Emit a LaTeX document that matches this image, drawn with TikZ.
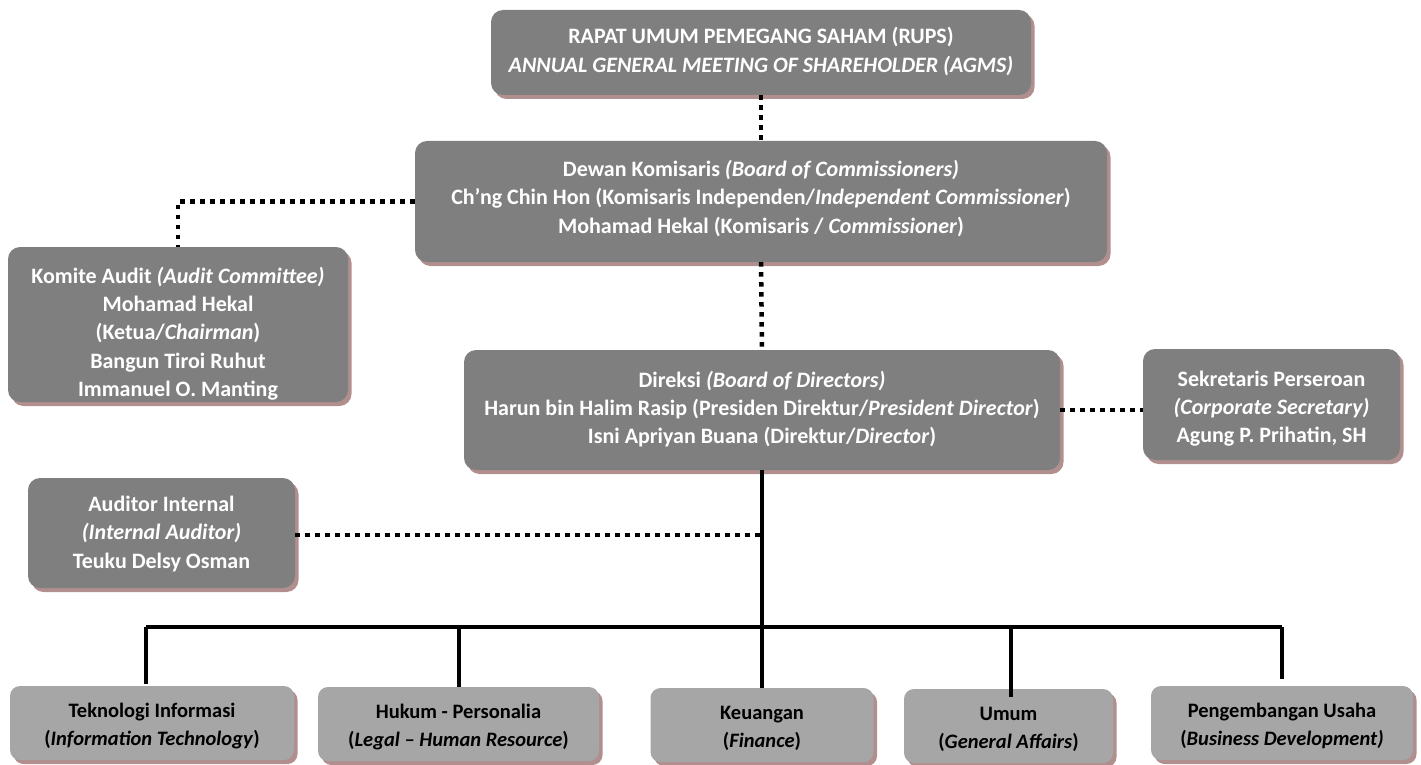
\documentclass[tikz,border=0pt]{standalone}
\usepackage{fontspec}
\setmainfont{Carlito}
\usetikzlibrary{shadows,calc}
\definecolor{darkbox}{RGB}{127,127,127}
\definecolor{lightbox}{RGB}{166,166,166}
\definecolor{shadowc}{RGB}{178,143,143}
\tikzset{
  orgbox/.style={rounded corners=12pt, fill=darkbox, inner sep=0pt,
    drop shadow={shadow xshift=3.5pt, shadow yshift=-4pt, fill=shadowc, opacity=1}},
  unitbox/.style={orgbox, fill=lightbox, rounded corners=10pt},
  orgtext/.style={text=white, align=center, inner sep=0pt,
    font=\fontsize{22}{28.3}\selectfont\bfseries},
  unittext/.style={text=black, align=center, inner sep=0pt,
    font=\fontsize{20.5}{28}\selectfont\bfseries},
  dotline/.style={line width=4.5pt, dash pattern=on 4.5pt off 5.5pt, black},
  solidline/.style={line width=4.5pt, black}
}
\begin{document}
\begin{tikzpicture}[x=1pt,y=-1pt]
\useasboundingbox (0,0) rectangle (1421,765);
% boxes
\node[orgbox, minimum width=540pt, minimum height=85pt] (rups) at (761,52.5) {};
\node[orgbox, minimum width=692pt, minimum height=121pt] (dewan) at (761,201.5) {};
\node[orgbox, minimum width=340pt, minimum height=155pt] (komite) at (178,324.5) {};
\node[orgbox, minimum width=596pt, minimum height=120pt] (direksi) at (762,410) {};
\node[orgbox, minimum width=257pt, minimum height=111pt] (sekr) at (1271.5,404.5) {};
\node[orgbox, minimum width=267pt, minimum height=110pt] (ia) at (161.5,533) {};
\node[unitbox, minimum width=284pt, minimum height=74pt] (ti) at (152,723) {};
\node[unitbox, minimum width=281pt, minimum height=74pt] (hukum) at (458.5,724) {};
\node[unitbox, minimum width=223pt, minimum height=74pt] (keu) at (762,725) {};
\node[unitbox, minimum width=209pt, minimum height=74pt] (umum) at (1008.5,726) {};
\node[unitbox, minimum width=262pt, minimum height=74pt] (peng) at (1282,723) {};
% texts
\node[orgtext] (rupsT) at ($(rups.center)+(0,-1)$)
 {RAPAT UMUM PEMEGANG SAHAM (RUPS)\\ \textit{ANNUAL GENERAL MEETING OF SHAREHOLDER (AGMS)}};
\node[orgtext] (dewanT) at ($(dewan.center)+(0,-3)$)
 {Dewan Komisaris \textit{(Board of Commissioners)}\\
  Ch’ng Chin Hon (Komisaris Independen/\textit{Independent Commissioner})\\
  Mohamad Hekal (Komisaris / \textit{Commissioner})};
\node[orgtext] (komiteT) at ($(komite.center)+(0,9)$)
 {Komite Audit \textit{(Audit Committee)}\\ Mohamad Hekal\\ (Ketua/\textit{Chairman})\\
  Bangun Tiroi Ruhut\\ Immanuel O. Manting};
\node[orgtext] (direksiT) at ($(direksi.center)+(0,-1)$)
 {Direksi \textit{(Board of Directors)}\\
  Harun bin Halim Rasip (Presiden Direktur/\textit{President Director})\\
  Isni Apriyan Buana (Direktur/\textit{Director})};
\node[orgtext] (sekrT) at ($(sekr.center)+(0,4)$)
 {Sekretaris Perseroan\\ \textit{(Corporate Secretary)}\\ Agung P. Prihatin, SH};
\node[orgtext] (iaT) at ($(ia.center)+(0,1)$)
 {Auditor Internal\\ \textit{(Internal Auditor)}\\ Teuku Delsy Osman};
\node[unittext] (tiT) at ($(ti.center)+(0,3)$)
 {Teknologi Informasi\\ (\textit{Information Technology})};
\node[unittext] (hukumT) at ($(hukum.center)+(0,3)$)
 {Hukum - Personalia\\ (\textit{Legal – Human Resource})};
\node[unittext] (keuT) at ($(keu.center)+(0,3)$)
 {Keuangan\\ (\textit{Finance})};
\node[unittext] (umumT) at ($(umum.center)+(0,3)$)
 {Umum\\ (\textit{General Affairs})};
\node[unittext] (pengT) at ($(peng.center)+(0,3)$)
 {Pengembangan Usaha\\ (\textit{Business Development)}};
% connector coordinates
\coordinate (busL) at (146,627);
\coordinate (busR) at (1282,627);
\coordinate (busH) at (459,627);
\coordinate (busU) at (1011,627);
\coordinate (tiEnd) at (146,684);
\coordinate (umEnd) at (1011,697);
\coordinate (pgEnd) at (1282,679);
\coordinate (iaJoin) at (762,535);
% dotted connectors
\draw[dotline] (rups.south) -- (dewan.north);
\draw[dotline] (dewan.west) -| (komite.north);
\draw[dotline] (dewan.south) -- (direksi.north);
\draw[dotline] (direksi.east) -- (direksi.east -| sekr.west);
\draw[dotline] (ia.east |- iaJoin) -- (iaJoin);
% solid connectors
\draw[solidline] (direksi.south) -- (keu.north);
\draw[solidline] (busL) -- (busR);
\draw[solidline] (busL) -- (tiEnd);
\draw[solidline] (busH) -- (busH |- hukum.north);
\draw[solidline] (busU) -- (umEnd);
\draw[solidline] (busR) -- (pgEnd);
\end{tikzpicture}
\end{document}
